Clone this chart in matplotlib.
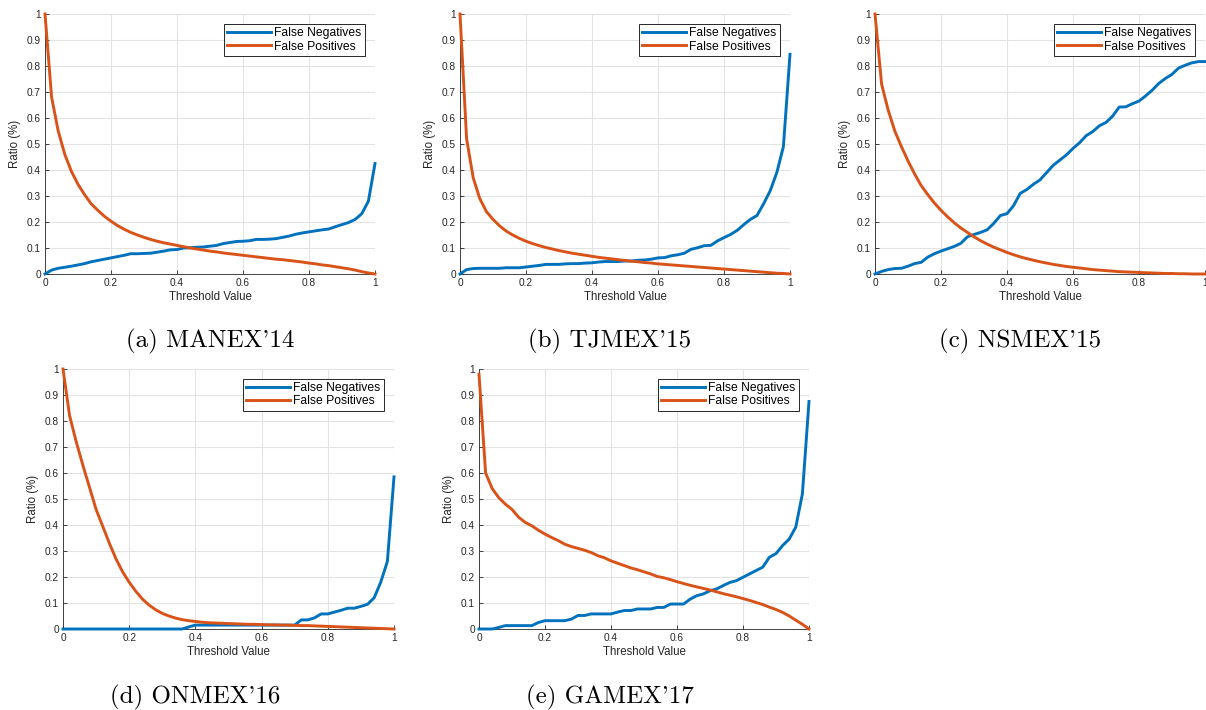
import numpy as np
import matplotlib
matplotlib.use("Agg")
import matplotlib.pyplot as plt

# threshold grid (step 0.02)
threshold = np.round(np.arange(0, 1.0001, 0.02), 2)

# (a) MANEX'14
fn_a = [0.0, 0.015, 0.022, 0.026, 0.03, 0.035, 0.04, 0.047, 0.052, 0.057, 0.062,
        0.067, 0.072, 0.078, 0.078, 0.079, 0.08, 0.084, 0.088, 0.093, 0.094,
        0.1, 0.101, 0.103, 0.104, 0.107, 0.11, 0.117, 0.121, 0.125, 0.126,
        0.128, 0.133, 0.133, 0.134, 0.136, 0.141, 0.146, 0.153, 0.158, 0.162,
        0.166, 0.17, 0.173, 0.182, 0.19, 0.198, 0.21, 0.232, 0.28, 0.425]
fp_a = [1.0, 0.68, 0.55, 0.46, 0.395, 0.345, 0.305, 0.27, 0.245, 0.222, 0.203,
        0.186, 0.172, 0.16, 0.15, 0.141, 0.133, 0.126, 0.12, 0.115, 0.11,
        0.105, 0.1, 0.096, 0.092, 0.088, 0.085, 0.081, 0.078, 0.075, 0.072,
        0.069, 0.066, 0.063, 0.06, 0.057, 0.055, 0.052, 0.049, 0.046, 0.042,
        0.039, 0.035, 0.032, 0.028, 0.024, 0.02, 0.015, 0.009, 0.004, 0.0]

# (b) TJMEX'15
fn_b = [0.0, 0.017, 0.021, 0.022, 0.022, 0.022, 0.022, 0.024, 0.024, 0.024, 0.027,
        0.03, 0.033, 0.037, 0.037, 0.037, 0.039, 0.04, 0.04, 0.042, 0.043,
        0.046, 0.048, 0.048, 0.048, 0.05, 0.05, 0.053, 0.054, 0.057, 0.062,
        0.063, 0.07, 0.074, 0.08, 0.095, 0.101, 0.109, 0.11, 0.127, 0.14,
        0.152, 0.168, 0.19, 0.21, 0.225, 0.27, 0.32, 0.39, 0.49, 0.845]
fp_b = [1.0, 0.52, 0.37, 0.29, 0.24, 0.21, 0.185, 0.165, 0.15, 0.137, 0.126,
        0.117, 0.109, 0.102, 0.096, 0.09, 0.085, 0.08, 0.076, 0.072, 0.068,
        0.064, 0.061, 0.058, 0.055, 0.052, 0.049, 0.047, 0.044, 0.042, 0.039,
        0.037, 0.035, 0.033, 0.031, 0.029, 0.027, 0.025, 0.023, 0.021, 0.019,
        0.017, 0.015, 0.013, 0.011, 0.009, 0.007, 0.005, 0.003, 0.002, 0.0]

# (c) NSMEX'15
fn_c = [0.0, 0.01, 0.017, 0.021, 0.022, 0.03, 0.04, 0.045, 0.065, 0.078, 0.088,
        0.097, 0.106, 0.118, 0.143, 0.152, 0.16, 0.17, 0.195, 0.225, 0.232,
        0.263, 0.31, 0.325, 0.345, 0.362, 0.39, 0.418, 0.438, 0.458, 0.483,
        0.505, 0.532, 0.548, 0.57, 0.583, 0.607, 0.642, 0.643, 0.655, 0.665,
        0.685, 0.707, 0.733, 0.752, 0.768, 0.792, 0.803, 0.812, 0.817, 0.817]
fp_c = [1.0, 0.73, 0.63, 0.55, 0.49, 0.435, 0.385, 0.34, 0.305, 0.273, 0.245,
        0.22, 0.197, 0.177, 0.16, 0.143, 0.128, 0.115, 0.103, 0.093, 0.083,
        0.074, 0.066, 0.059, 0.053, 0.047, 0.042, 0.037, 0.033, 0.029, 0.026,
        0.023, 0.02, 0.017, 0.015, 0.013, 0.011, 0.009, 0.008, 0.007, 0.006,
        0.005, 0.004, 0.003, 0.002, 0.002, 0.001, 0.001, 0.0, 0.0, 0.0]

# (d) ONMEX'16
fn_d = [0.0] * 19 + [0.008] + [0.015] * 16 + \
       [0.035, 0.035, 0.043, 0.058, 0.058, 0.065, 0.072, 0.08, 0.08, 0.087,
        0.095, 0.12, 0.18, 0.26, 0.585]
fp_d = [1.0, 0.82, 0.72, 0.63, 0.545, 0.46, 0.395, 0.33, 0.27, 0.22, 0.18,
        0.145, 0.115, 0.092, 0.074, 0.06, 0.05, 0.042, 0.036, 0.032, 0.029,
        0.026, 0.024, 0.023, 0.022, 0.021, 0.02, 0.019, 0.018, 0.018, 0.017,
        0.016, 0.016, 0.015, 0.015, 0.014, 0.013, 0.013, 0.012, 0.011, 0.01,
        0.009, 0.008, 0.007, 0.006, 0.005, 0.004, 0.003, 0.002, 0.001, 0.0]

# (e) GAMEX'17
fn_e = [0.0, 0.0, 0.0, 0.006, 0.013, 0.013, 0.013, 0.013, 0.013, 0.025, 0.032,
        0.032, 0.032, 0.032, 0.038, 0.052, 0.052, 0.058, 0.058, 0.058, 0.058,
        0.065, 0.071, 0.071, 0.077, 0.077, 0.077, 0.083, 0.083, 0.096, 0.096,
        0.096, 0.115, 0.128, 0.135, 0.147, 0.154, 0.167, 0.179, 0.186, 0.199,
        0.212, 0.225, 0.238, 0.276, 0.29, 0.321, 0.346, 0.392, 0.52, 0.875]
fp_e = [0.98, 0.6, 0.54, 0.505, 0.48, 0.46, 0.43, 0.41, 0.397, 0.38, 0.365,
        0.352, 0.34, 0.326, 0.317, 0.31, 0.303, 0.294, 0.282, 0.274, 0.262,
        0.253, 0.244, 0.235, 0.228, 0.22, 0.212, 0.202, 0.197, 0.19, 0.182,
        0.175, 0.168, 0.162, 0.156, 0.15, 0.143, 0.136, 0.13, 0.124, 0.117,
        0.11, 0.102, 0.094, 0.084, 0.075, 0.064, 0.05, 0.034, 0.018, 0.0]

captions = ["(a) MANEX'14", "(b) TJMEX'15", "(c) NSMEX'15",
            "(d) ONMEX'16", "(e) GAMEX'17"]
fn_all = [fn_a, fn_b, fn_c, fn_d, fn_e]
fp_all = [fp_a, fp_b, fp_c, fp_d, fp_e]

W, H = 1206, 710
# axes boxes in pixels: left, top, right, bottom
boxes = [(45, 14, 375, 274), (460, 14, 790, 274), (875, 14, 1205, 274),
         (63, 369, 394, 629), (479, 369, 809, 629)]
cap_pos = [(210, 341), (610, 341), (1020, 341), (195, 697), (610, 697)]

plt.rcParams['font.family'] = ['Liberation Sans', 'DejaVu Sans']
fig = plt.figure(figsize=(W / 100, H / 100), dpi=100)

blue = '#0072BD'
orange = '#D95319'
dark = '#262626'

for i in range(5):
    l, t, r, b = boxes[i]
    ax = fig.add_axes([l / W, 1 - b / H, (r - l) / W, (b - t) / H])
    ax.plot(threshold, fn_all[i], color=blue, lw=2.1, label='False Negatives',
            clip_on=False, zorder=3)
    ax.plot(threshold, fp_all[i], color=orange, lw=2.1, label='False Positives',
            clip_on=False, zorder=3)
    ax.set_xlim(0, 1)
    ax.set_ylim(0, 1)
    ax.set_xticks(np.arange(0, 1.01, 0.2))
    ax.set_xticklabels(['0', '0.2', '0.4', '0.6', '0.8', '1'])
    ax.set_yticks(np.arange(0, 1.01, 0.1))
    ax.set_yticklabels(['0'] + ['%.1f' % v for v in np.arange(0.1, 0.95, 0.1)] + ['1'])
    ax.grid(True, color='#e3e3e3', lw=0.8)
    ax.set_axisbelow(True)
    for s in ['top', 'right']:
        ax.spines[s].set_visible(False)
    for s in ['left', 'bottom']:
        ax.spines[s].set_color(dark)
        ax.spines[s].set_linewidth(0.6)
    ax.tick_params(direction='in', length=3, width=0.6, colors=dark,
                   labelsize=7.3, pad=3)
    ax.set_xlabel('Threshold Value', fontsize=8.3, color=dark, labelpad=2)
    ax.set_ylabel('Ratio (%)', fontsize=8.3, color=dark, labelpad=4)
    leg = ax.legend(loc='upper right', fontsize=8.7, handlelength=3.6,
                    handletextpad=0.3, labelspacing=0.1, borderpad=0.3,
                    borderaxespad=0.8, fancybox=False, framealpha=1)
    leg.get_frame().set_edgecolor(dark)
    leg.get_frame().set_linewidth(0.7)

    cx, cy = cap_pos[i]
    fig.text(cx / W, 1 - cy / H, captions[i], family='cmr10', fontsize=18,
             ha='center', va='center', color='black')

plt.savefig('out.png', dpi=100)
